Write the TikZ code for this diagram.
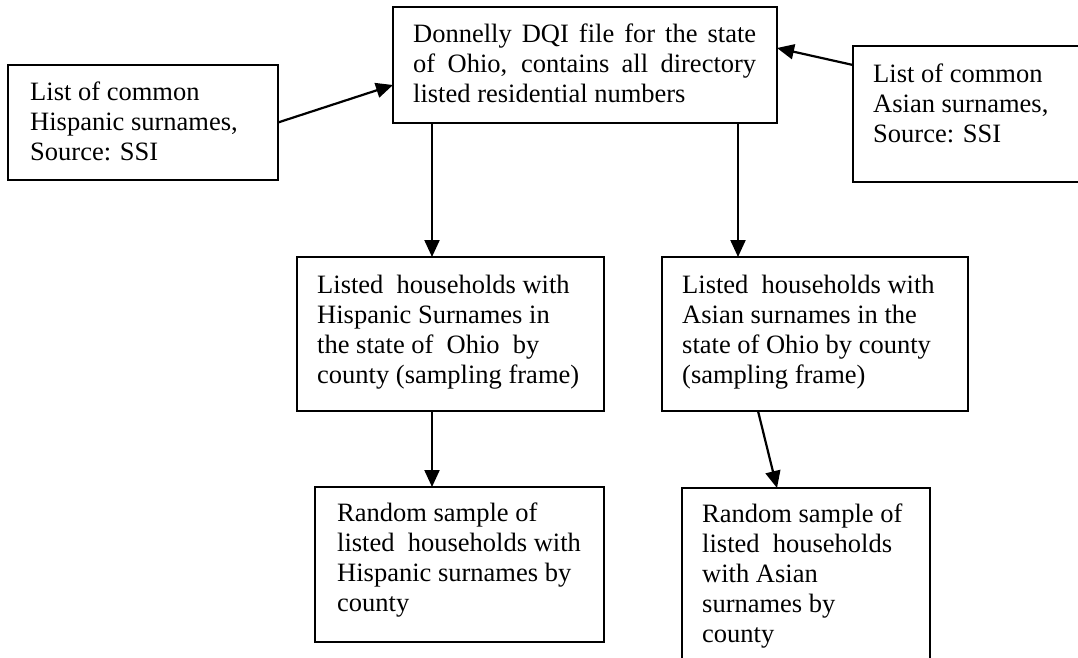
\documentclass[tikz,border=0pt]{standalone}
\usepackage{fontspec}
\setmainfont{Liberation Serif}
\usetikzlibrary{arrows.meta}
\begin{document}
\begin{tikzpicture}[x=1pt,y=1pt,
  boxnode/.style={draw, line width=1.5pt, rectangle, inner sep=0pt, outer sep=0pt, anchor=north west},
  txt/.style={anchor=north west, inner sep=0pt, align=left, font=\fontsize{26.5}{30}\selectfont},
  arr/.style={line width=2.2pt, -{Triangle[length=17pt,width=15pt]}}]
\useasboundingbox (0,0) rectangle (1078,-658);
\clip (0,0) rectangle (1078,-658);
% boxes
\node[boxnode, minimum width=270pt, minimum height=115pt] (hisp) at (8,-65) {};
\node[boxnode, minimum width=384pt, minimum height=116pt] (top) at (393,-7) {};
\node[boxnode, minimum width=240pt, minimum height=136pt] (asian) at (853,-46) {};
\node[boxnode, minimum width=307pt, minimum height=154pt] (midL) at (297,-257) {};
\node[boxnode, minimum width=306pt, minimum height=154pt] (midR) at (662,-257) {};
\node[boxnode, minimum width=289pt, minimum height=155pt] (botL) at (315,-487) {};
\node[boxnode, minimum width=248pt, minimum height=190pt] (botR) at (682,-488) {};
% texts
\node[txt] (thisp) at (30,-79) {\rule{0pt}{21pt}List of common\\Hispanic surnames,\\Source: SSI};
\node[txt] (ttop) at (413,-21) {\rule{0pt}{21pt}\makebox[343pt][s]{Donnelly DQI file for the state}\\\makebox[343pt][s]{of Ohio, contains all directory}\\listed residential numbers};
\node[txt] (tasian) at (873,-61) {\rule{0pt}{21pt}List of common\\Asian surnames,\\Source: SSI};
\node[txt] (tmidL) at (317,-272) {\rule{0pt}{21pt}Listed\ \ households with\\Hispanic Surnames in\\the state of\ \ Ohio\ \ by\\county (sampling frame)};
\node[txt] (tmidR) at (682,-272) {\rule{0pt}{21pt}Listed\ \ households with\\Asian surnames in the\\state of Ohio by county\\(sampling frame)};
\node[txt] (tbotL) at (337,-500) {\rule{0pt}{21pt}Random sample of\\listed\ \ households with\\Hispanic surnames by\\county};
\node[txt] (tbotR) at (702,-501) {\rule{0pt}{21pt}Random sample of\\listed\ \ households\\with Asian\\surnames by\\county};
% connectors
\coordinate (a1) at ([xshift=39pt]top.south west);
\coordinate (a2) at ([xshift=-39pt]top.south east);
\draw[arr] (hisp.east) -- ([yshift=-20pt]top.west);
\draw[arr] ([yshift=49pt]asian.west) -- ([yshift=17pt]top.east);
\draw[arr] (a1) -- (a1 |- midL.north);
\draw[arr] (a2) -- (a2 |- midR.north);
\draw[arr] (a1 |- midL.south) -- (a1 |- botL.north);
\draw[arr] ([xshift=96pt]midR.south west) -- ([xshift=95pt]botR.north west);
\end{tikzpicture}
\end{document}
